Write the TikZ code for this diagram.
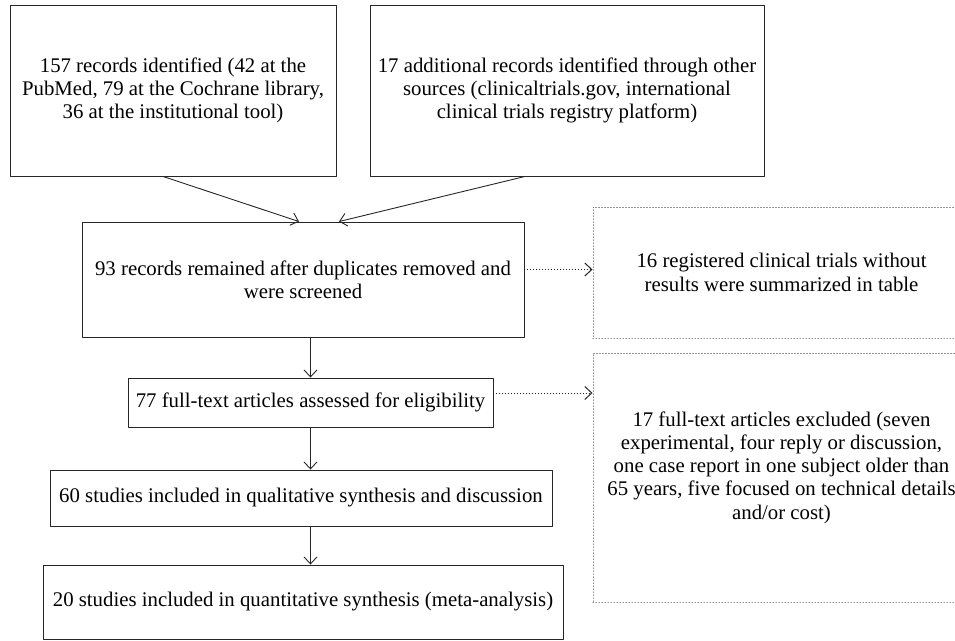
\documentclass[tikz,border=0pt]{standalone}
\usepackage{fontspec}
\setmainfont{Liberation Serif}
\usetikzlibrary{arrows.meta}
\tikzset{box/.style={draw=black!85, line width=.9pt, align=center, inner sep=1pt},
	dotbox/.style={draw=black!85, line width=1pt, dash pattern=on .1pt off 2.9pt, align=center}}
\begin{document}
\begin{tikzpicture}[x=1pt, y=-1pt, font=\fontsize{20.8}{23.3}\selectfont, line join=round, line cap=round, >={Straight Barb[length=7pt,width=13pt]}]
	\useasboundingbox (0,0) rectangle (955,640);
	\node[box, minimum width=326pt, minimum height=171pt] (pub) at (173,90.5) {157 records identified (42 at the\\PubMed, 79 at the Cochrane library,\\36 at the institutional tool)};
	\node[box, minimum width=394pt, minimum height=171pt] (oth) at (567,90.5) {17 additional records identified through other\\sources (clinicaltrials.gov, international\\clinical trials registry platform)};
	\node[box, minimum width=442pt, minimum height=115pt] (scr) at (303,279.5) {93 records remained after duplicates removed and\\were screened};
	\node[dotbox, minimum width=377pt, minimum height=131pt] (reg) at (781.5,272.5) {16 registered clinical trials without\\results were summarized in table};
	\node[box, minimum width=365pt, minimum height=49pt] (elig) at (310.5,402.5) {77 full-text articles assessed for eligibility};
	\node[dotbox, minimum width=377pt, minimum height=249pt] (excl) at (781.5,477.5) {};
	\node[align=center] (excltxt) at ([yshift=10pt]excl.center) {17 full-text articles excluded (seven\\experimental, four reply or discussion,\\one case report in one subject older than\\65 years, five focused on technical details\\and/or cost)};
	\node[box, minimum width=502pt, minimum height=56pt] (qual) at (301,498) {60 studies included in qualitative synthesis and discussion};
	\node[box, minimum width=520pt, minimum height=74pt] (meta) at (303,602) {20 studies included in quantitative synthesis (meta-analysis)};
	\draw[->, line width=.9pt, black!85] ([xshift=-10pt]pub.south) -- ([xshift=-4pt]scr.north);
	\draw[->, line width=.9pt, black!85] ([xshift=-42pt]oth.south) -- ([xshift=36pt]scr.north);
	\draw[->, line width=.9pt, black!85] (scr.south -| elig.north) -- (elig.north);
	\draw[->, line width=.9pt, black!85] (elig.south) -- (elig.south |- qual.north);
	\draw[->, line width=.9pt, black!85] (elig.south |- qual.south) -- (elig.south |- meta.north);
	\draw[->, line width=1pt, black!85, dash pattern=on .1pt off 2.9pt] ([yshift=10pt]scr.east) -- ([yshift=10pt]scr.east -| reg.west);
	\draw[->, line width=1pt, black!85, dash pattern=on .1pt off 2.9pt] ([yshift=9.5pt]elig.east) -- ([yshift=9.5pt]elig.east -| excl.west);
\end{tikzpicture}
\end{document}
